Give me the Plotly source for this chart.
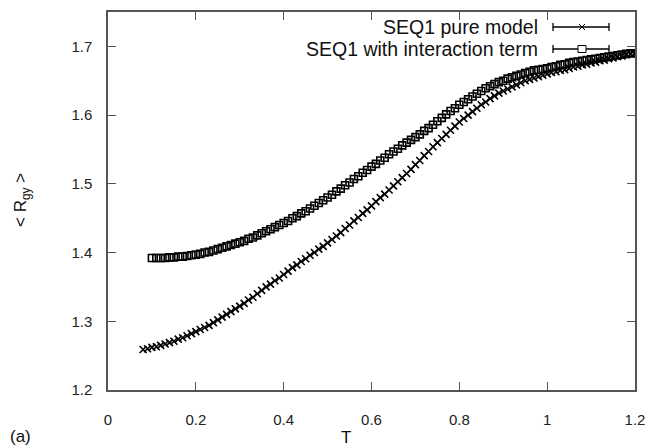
import plotly.graph_objects as go

# ---- data ----
T_pure = [0.08, 0.09, 0.10, 0.11, 0.12, 0.13, 0.14, 0.15, 0.16, 0.17, 0.18, 0.19,
          0.20, 0.21, 0.22, 0.23, 0.24, 0.25, 0.26, 0.27, 0.28, 0.29, 0.30, 0.31,
          0.32, 0.33, 0.34, 0.35, 0.36, 0.37, 0.38, 0.39, 0.40, 0.41, 0.42, 0.43,
          0.44, 0.45, 0.46, 0.47, 0.48, 0.49, 0.50, 0.51, 0.52, 0.53, 0.54, 0.55,
          0.56, 0.57, 0.58, 0.59, 0.60, 0.61, 0.62, 0.63, 0.64, 0.65, 0.66, 0.67,
          0.68, 0.69, 0.70, 0.71, 0.72, 0.73, 0.74, 0.75, 0.76, 0.77, 0.78, 0.79,
          0.80, 0.81, 0.82, 0.83, 0.84, 0.85, 0.86, 0.87, 0.88, 0.89, 0.90, 0.91,
          0.92, 0.93, 0.94, 0.95, 0.96, 0.97, 0.98, 0.99, 1.00, 1.01, 1.02, 1.03,
          1.04, 1.05, 1.06, 1.07, 1.08, 1.09, 1.10, 1.11, 1.12, 1.13, 1.14, 1.15,
          1.16, 1.17, 1.18, 1.19, 1.20]
R_pure = [1.259, 1.260, 1.262, 1.263, 1.265, 1.267, 1.269, 1.271, 1.274, 1.276, 1.279, 1.282,
          1.285, 1.288, 1.291, 1.294, 1.298, 1.302, 1.306, 1.310, 1.314, 1.318, 1.322, 1.326,
          1.331, 1.335, 1.340, 1.345, 1.350, 1.354, 1.359, 1.363, 1.368, 1.373, 1.378, 1.382,
          1.387, 1.391, 1.396, 1.400, 1.405, 1.409, 1.414, 1.419, 1.424, 1.429, 1.435, 1.440,
          1.446, 1.451, 1.457, 1.462, 1.468, 1.474, 1.480, 1.485, 1.491, 1.497, 1.503, 1.509,
          1.515, 1.521, 1.528, 1.534, 1.541, 1.547, 1.554, 1.560, 1.566, 1.572, 1.578, 1.584,
          1.590, 1.595, 1.600, 1.605, 1.610, 1.615, 1.619, 1.624, 1.628, 1.632, 1.635, 1.638,
          1.641, 1.644, 1.647, 1.650, 1.652, 1.654, 1.656, 1.658, 1.660, 1.662, 1.663, 1.665,
          1.666, 1.668, 1.670, 1.671, 1.673, 1.674, 1.676, 1.677, 1.679, 1.680, 1.682, 1.683,
          1.685, 1.686, 1.688, 1.689, 1.690]

T_int = [0.10, 0.11, 0.12, 0.13, 0.14, 0.15, 0.16, 0.17, 0.18, 0.19,
         0.20, 0.21, 0.22, 0.23, 0.24, 0.25, 0.26, 0.27, 0.28, 0.29, 0.30, 0.31,
         0.32, 0.33, 0.34, 0.35, 0.36, 0.37, 0.38, 0.39, 0.40, 0.41, 0.42, 0.43,
         0.44, 0.45, 0.46, 0.47, 0.48, 0.49, 0.50, 0.51, 0.52, 0.53, 0.54, 0.55,
         0.56, 0.57, 0.58, 0.59, 0.60, 0.61, 0.62, 0.63, 0.64, 0.65, 0.66, 0.67,
         0.68, 0.69, 0.70, 0.71, 0.72, 0.73, 0.74, 0.75, 0.76, 0.77, 0.78, 0.79,
         0.80, 0.81, 0.82, 0.83, 0.84, 0.85, 0.86, 0.87, 0.88, 0.89, 0.90, 0.91,
         0.92, 0.93, 0.94, 0.95, 0.96, 0.97, 0.98, 0.99, 1.00, 1.01, 1.02, 1.03,
         1.04, 1.05, 1.06, 1.07, 1.08, 1.09, 1.10, 1.11, 1.12, 1.13, 1.14, 1.15,
         1.16, 1.17, 1.18, 1.19, 1.20]
R_int = [1.392, 1.392, 1.392, 1.392, 1.393, 1.393, 1.394, 1.394, 1.395, 1.396,
         1.397, 1.398, 1.400, 1.401, 1.403, 1.405, 1.407, 1.409, 1.411, 1.413, 1.415, 1.417,
         1.420, 1.422, 1.425, 1.428, 1.431, 1.434, 1.437, 1.440, 1.443, 1.446, 1.450, 1.453,
         1.457, 1.460, 1.464, 1.468, 1.472, 1.476, 1.480, 1.484, 1.489, 1.493, 1.498, 1.502,
         1.507, 1.511, 1.516, 1.520, 1.525, 1.529, 1.534, 1.538, 1.543, 1.547, 1.551, 1.556,
         1.560, 1.564, 1.568, 1.572, 1.577, 1.581, 1.586, 1.591, 1.596, 1.601, 1.606, 1.610,
         1.615, 1.619, 1.623, 1.627, 1.631, 1.635, 1.639, 1.642, 1.645, 1.648, 1.650, 1.653,
         1.655, 1.657, 1.659, 1.661, 1.663, 1.665, 1.666, 1.667, 1.668, 1.670, 1.671, 1.673,
         1.674, 1.676, 1.677, 1.678, 1.679, 1.680, 1.681, 1.682, 1.683, 1.684, 1.685, 1.686,
         1.687, 1.688, 1.689, 1.690, 1.690]

series_names = ["SEQ1 pure model", "SEQ1 with interaction term"]
x_ticks = [0, 0.2, 0.4, 0.6, 0.8, 1, 1.2]
x_ticktext = ["0", "0.2", "0.4", "0.6", "0.8", "1", "1.2"]
y_ticks = [1.2, 1.3, 1.4, 1.5, 1.6, 1.7]
y_ticktext = ["1.2", "1.3", "1.4", "1.5", "1.6", "1.7"]

FONT = "Liberation Sans, Arial, Helvetica, sans-serif"
W, H = 651, 448
L, R, T, B = 108, 16, 12, 58

def px(xp):
    return (xp - L) / (W - L - R)

def py(yp):
    return (H - B - yp) / (H - T - B)

fig = go.Figure()
fig.add_trace(go.Scatter(
    x=T_pure, y=R_pure, mode="markers", name=series_names[0],
    marker=dict(symbol="x-thin", size=7, color="black", line=dict(color="black", width=1.6)),
    showlegend=False))
fig.add_trace(go.Scatter(
    x=T_int, y=R_int, mode="markers", name=series_names[1],
    marker=dict(symbol="square-open", size=7, color="black", line=dict(color="black", width=1.6)),
    showlegend=False))

axis_common = dict(
    showline=True, linecolor="#555", linewidth=1.5, mirror="ticks",
    ticks="inside", ticklen=8, tickwidth=1.2, tickcolor="#555",
    showgrid=False, zeroline=False,
    tickfont=dict(family=FONT, size=15, color="#222"),
)

fig.update_xaxes(range=[0, 1.2], tickvals=x_ticks, ticktext=x_ticktext,
                 ticklabelstandoff=15, automargin=False, **axis_common)
fig.update_yaxes(range=[1.2, 1.75], tickvals=y_ticks, ticktext=y_ticktext,
                 ticklabelstandoff=11, automargin=False, **axis_common)

shapes = []
annotations = []
rows = [(27, "x"), (49, "sq")]
for (yp, kind), name in zip(rows, series_names):
    annotations.append(dict(x=px(540), y=py(yp), xref="paper", yref="paper",
                            text=name, showarrow=False, xanchor="right", yanchor="middle",
                            font=dict(family=FONT, size=19.5, color="#111")))
    shapes.append(dict(type="line", xref="paper", yref="paper", x0=px(553), x1=px(609),
                       y0=py(yp), y1=py(yp), line=dict(color="black", width=1.3)))
    for xc in (553, 609):
        shapes.append(dict(type="line", xref="paper", yref="paper", x0=px(xc), x1=px(xc),
                           y0=py(yp - 4), y1=py(yp + 4), line=dict(color="black", width=1.3)))
    if kind == "x":
        shapes.append(dict(type="line", xref="paper", yref="paper", x0=px(579), x1=px(585),
                           y0=py(yp - 3), y1=py(yp + 3), line=dict(color="black", width=1)))
        shapes.append(dict(type="line", xref="paper", yref="paper", x0=px(579), x1=px(585),
                           y0=py(yp + 3), y1=py(yp - 3), line=dict(color="black", width=1)))
    else:
        shapes.append(dict(type="rect", xref="paper", yref="paper", x0=px(578), x1=px(586),
                           y0=py(yp + 3.5), y1=py(yp - 3.5), fillcolor="white",
                           line=dict(color="black", width=1)))

annotations.append(dict(x=px(346), y=py(437), xref="paper", yref="paper", text="T",
                        showarrow=False, xanchor="center", yanchor="middle",
                        font=dict(family=FONT, size=17, color="#111")))
annotations.append(dict(x=px(22), y=py(200), xref="paper", yref="paper",
                        text="< R<sub>gy</sub> >", textangle=-90,
                        showarrow=False, xanchor="center", yanchor="middle",
                        font=dict(family=FONT, size=17, color="#111")))
annotations.append(dict(x=px(20), y=py(436), xref="paper", yref="paper", text="(a)",
                        showarrow=False, xanchor="center", yanchor="middle",
                        font=dict(family=FONT, size=17, color="#111")))

fig.update_layout(
    width=W, height=H,
    margin=dict(l=L, r=R, t=T, b=B),
    paper_bgcolor="white", plot_bgcolor="white",
    shapes=shapes, annotations=annotations,
    font=dict(family=FONT),
)

fig.write_html("out.html", config={"displayModeBar": False},
               post_script="document.body.style.margin='0';document.body.style.overflow='hidden';")
